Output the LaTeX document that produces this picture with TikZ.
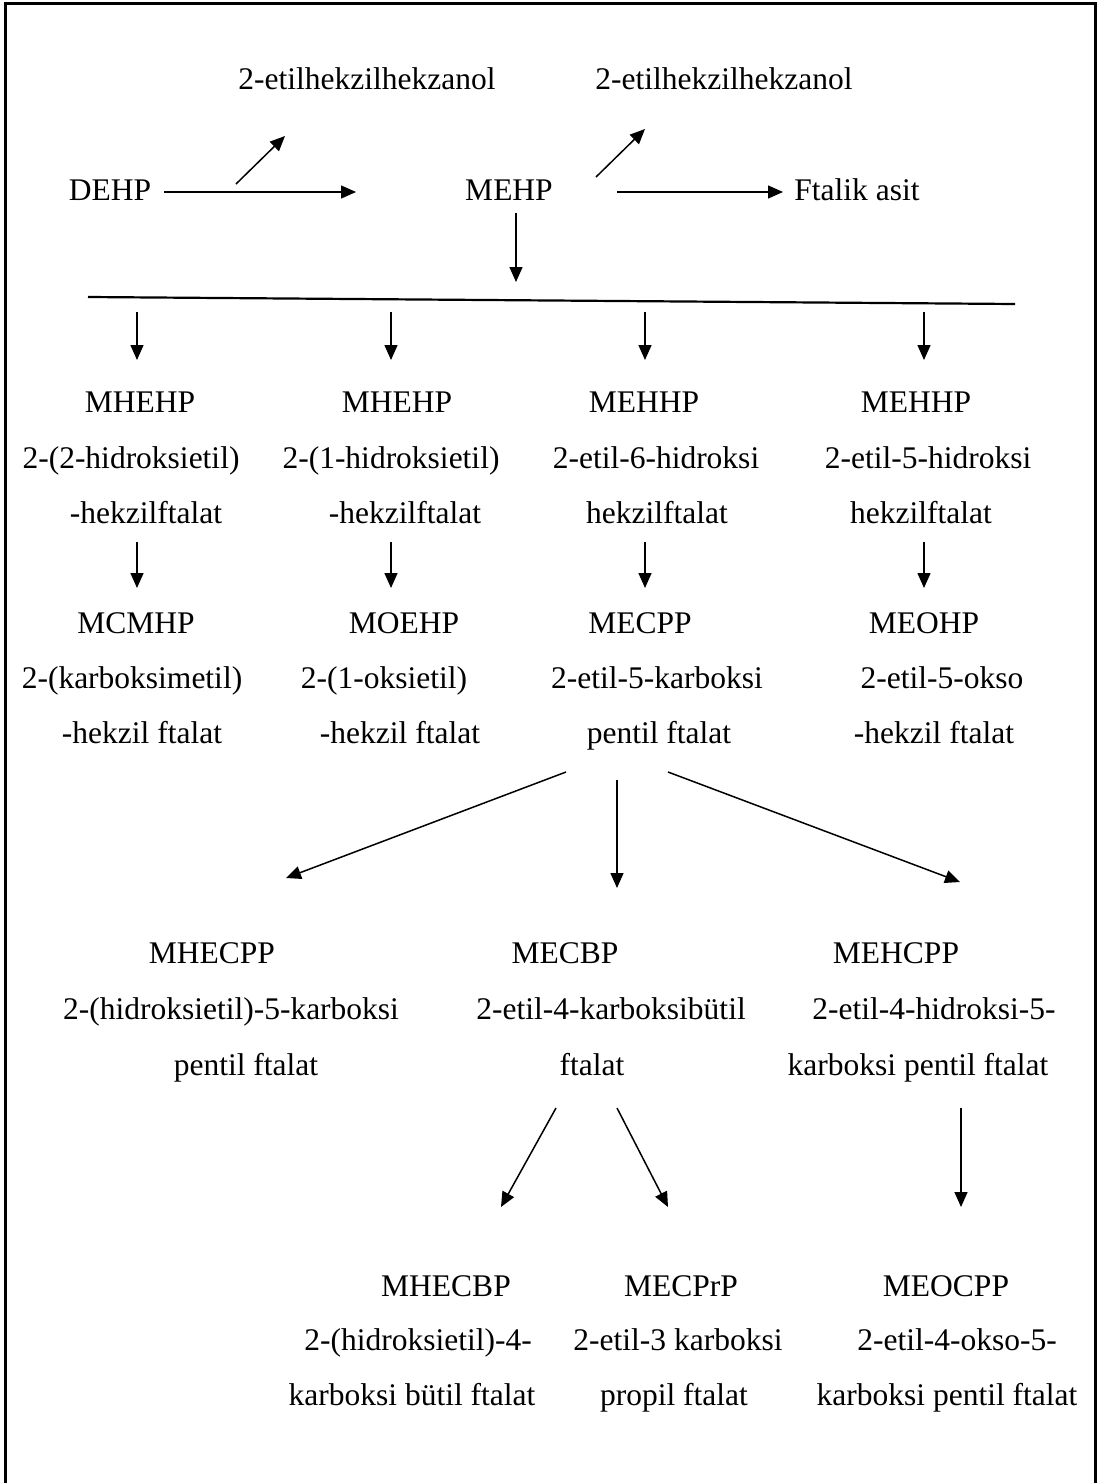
\documentclass[tikz,border=0pt]{standalone}
\usepackage{fontspec}
\setmainfont{Liberation Serif}
\usetikzlibrary{arrows.meta}
\begin{document}
\begin{tikzpicture}[x=1pt,y=-1pt,
  lbl/.style={anchor=base, inner sep=0pt, font=\fontsize{31.5}{37}\selectfont},
  arr/.style={-{Triangle[length=15pt,width=13pt]}, line width=1.5pt},
  frame/.style={line width=3pt},
  bar/.style={line width=2.2pt}]
\useasboundingbox (0,0) rectangle (1100,1483);
\draw[frame] (5,1485) -- (5,3) -- (1095,3) -- (1095,1485);

% top
\node[lbl] (eh1) at (367,89) {2-etilhekzilhekzanol};
\node[lbl] (eh2) at (724,89) {2-etilhekzilhekzanol};
\node[lbl] (dehp) at (110,200) {DEHP};
\node[lbl] (mehp) at (509,200) {MEHP};
\node[lbl] (ftal) at (857,200) {Ftalik asit};

% column 1
\node[lbl] (c1a) at (140,412) {MHEHP};
\node[lbl] (c1b) at (131,468) {2-(2-hidroksietil)};
\node[lbl] (c1c) at (146,523) {-hekzilftalat};
\node[lbl] (c1d) at (136,633) {MCMHP};
\node[lbl] (c1e) at (132,688) {2-(karboksimetil)};
\node[lbl] (c1f) at (142,743) {-hekzil ftalat};
% column 2
\node[lbl] (c2a) at (397,412) {MHEHP};
\node[lbl] (c2b) at (391,468) {2-(1-hidroksietil)};
\node[lbl] (c2c) at (405,523) {-hekzilftalat};
\node[lbl] (c2d) at (404,633) {MOEHP};
\node[lbl] (c2e) at (384,688) {2-(1-oksietil)};
\node[lbl] (c2f) at (400,743) {-hekzil ftalat};
% column 3
\node[lbl] (c3a) at (644,412) {MEHHP};
\node[lbl] (c3b) at (656,468) {2-etil-6-hidroksi};
\node[lbl] (c3c) at (657,523) {hekzilftalat};
\node[lbl] (c3d) at (640,633) {MECPP};
\node[lbl] (c3e) at (657,688) {2-etil-5-karboksi};
\node[lbl] (c3f) at (659,743) {pentil ftalat};
% column 4
\node[lbl] (c4a) at (916,412) {MEHHP};
\node[lbl] (c4b) at (928,468) {2-etil-5-hidroksi};
\node[lbl] (c4c) at (921,523) {hekzilftalat};
\node[lbl] (c4d) at (924,633) {MEOHP};
\node[lbl] (c4e) at (942,688) {2-etil-5-okso};
\node[lbl] (c4f) at (934,743) {-hekzil ftalat};

% row 3
\node[lbl] (r3a) at (212,963) {MHECPP};
\node[lbl] (r3b) at (231,1019) {2-(hidroksietil)-5-karboksi};
\node[lbl] (r3c) at (246,1075) {pentil ftalat};
\node[lbl] (r3d) at (565,963) {MECBP};
\node[lbl] (r3e) at (611,1019) {2-etil-4-karboksibütil};
\node[lbl] (r3f) at (592,1075) {ftalat};
\node[lbl] (r3g) at (896,963) {MEHCPP};
\node[lbl] (r3h) at (934,1019) {2-etil-4-hidroksi-5-};
\node[lbl] (r3i) at (918,1075) {karboksi pentil ftalat};

% row 4
\node[lbl] (r4a) at (446,1296) {MHECBP};
\node[lbl] (r4b) at (418,1350) {2-(hidroksietil)-4-};
\node[lbl] (r4c) at (412,1405) {karboksi bütil ftalat};
\node[lbl] (r4d) at (681,1296) {MECPrP};
\node[lbl] (r4e) at (678,1350) {2-etil-3 karboksi};
\node[lbl] (r4f) at (674,1405) {propil ftalat};
\node[lbl] (r4g) at (946,1296) {MEOCPP};
\node[lbl] (r4h) at (957,1350) {2-etil-4-okso-5-};
\node[lbl] (r4i) at (947,1405) {karboksi pentil ftalat};

% connector end points
\coordinate (dehpS) at (164,192);  \coordinate (dehpE) at (356,192);
\coordinate (eh1S) at (236,184);   \coordinate (eh1E) at (285,136);
\coordinate (eh2S) at (596,177);   \coordinate (eh2E) at (645,129);
\coordinate (ftS) at (617,192);    \coordinate (ftE) at (783,192);
\coordinate (mdS) at (516,213);    \coordinate (mdE) at (516,282);
\coordinate (barL) at (88,297);    \coordinate (barR) at (1015,304);
\foreach \n/\x in {1/137,2/391,3/645,4/924}{
  \coordinate (k\n S) at (\x,312); \coordinate (k\n E) at (\x,360);
  \coordinate (m\n S) at (\x,542); \coordinate (m\n E) at (\x,588);
}
\coordinate (p1S) at (566,772);  \coordinate (p1E) at (286,878);
\coordinate (p2S) at (617,780);  \coordinate (p2E) at (617,888);
\coordinate (p3S) at (668,772);  \coordinate (p3E) at (960,882);
\coordinate (q1S) at (556,1108); \coordinate (q1E) at (501,1207);
\coordinate (q2S) at (617,1108); \coordinate (q2E) at (668,1207);
\coordinate (q3S) at (961,1108); \coordinate (q3E) at (961,1207);

\draw[arr] (dehpS) -- (dehpE);
\draw[arr] (eh1S) -- (eh1E);
\draw[arr] (eh2S) -- (eh2E);
\draw[arr] (ftS) -- (ftE);
\draw[arr] (mdS) -- (mdE);
\draw[bar] (barL) -- (barR);
\foreach \n in {1,2,3,4}{
  \draw[arr] (k\n S) -- (k\n E);
  \draw[arr] (m\n S) -- (m\n E);
}
\draw[arr] (p1S) -- (p1E);
\draw[arr] (p2S) -- (p2E);
\draw[arr] (p3S) -- (p3E);
\draw[arr] (q1S) -- (q1E);
\draw[arr] (q2S) -- (q2E);
\draw[arr] (q3S) -- (q3E);
\end{tikzpicture}
\end{document}
